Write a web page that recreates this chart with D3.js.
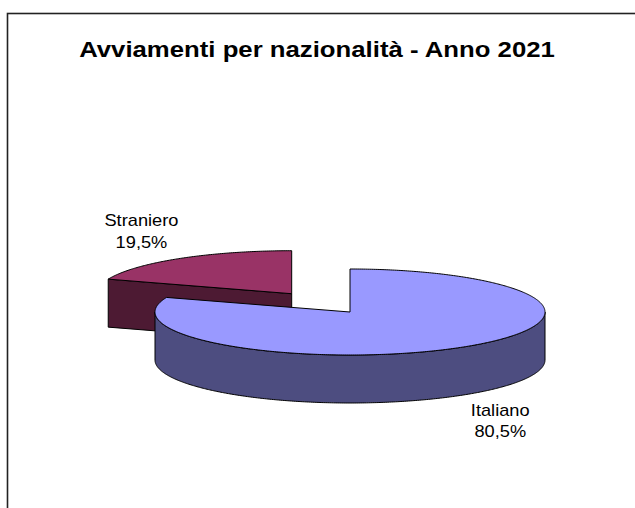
<!DOCTYPE html>
<html>
<head>
<meta charset="utf-8">
<script src="https://cdn.jsdelivr.net/npm/d3@7"></script>
<style>
  html, body { margin: 0; padding: 0; background: #fff; }
  svg { display: block; }
  text { font-family: "Liberation Sans", Arial, sans-serif; fill: #000; }
</style>
</head>
<body>
<svg id="chart" width="635" height="508"></svg>
<script>
// Data
const title = "Avviamenti per nazionalità - Anno 2021";
const categories = ["Italiano", "Straniero"];
const shares = [80.5, 19.5];
const shareLabels = ["80,5%", "19,5%"];
const explode = [0, 0.52];
const topColors = ["#9999FF", "#993366"];

// Layout of the 3-D pie
const W = 635, H = 508;
const cx = 350, cy = 312;     // pie centre (top face)
const rx = 195, ry = 43;      // projected ellipse radii
const depth = 48;             // thickness of the disc

const svg = d3.select("#chart");

// chart frame
svg.append("rect")
  .attr("x", 7.5).attr("y", 13.5)
  .attr("width", W + 10).attr("height", H + 10)
  .attr("fill", "none").attr("stroke", "#222").attr("stroke-width", 1.6);

// title
svg.append("text")
  .attr("transform", `translate(317,57) scale(1.17,1)`)
  .attr("text-anchor", "middle")
  .attr("font-size", 22).attr("font-weight", "bold")
  .text(title);

const pie = d3.pie().sort(null).value(d => d.value);
const arcs = pie(categories.map((c, i) => ({
  name: c, value: shares[i], label: shareLabels[i], explode: explode[i], color: topColors[i]
})));

// projected point on the ellipse (angle clockwise from 12 o'clock)
function proj(c, a, dz = 0) {
  return [c[0] + rx * Math.sin(a), c[1] - ry * Math.cos(a) + dz];
}
function arcPoints(c, a0, a1, dz = 0) {
  const n = Math.max(2, Math.ceil(Math.abs(a1 - a0) / 0.01));
  return d3.range(n + 1).map(i => proj(c, a0 + (a1 - a0) * i / n, dz));
}
const line = d3.line().curve(d3.curveLinear);

arcs.forEach(d => {
  const mid = (d.startAngle + d.endAngle) / 2;
  d.center = [cx + rx * d.data.explode * Math.sin(mid), cy - ry * d.data.explode * Math.cos(mid)];
  d.mid = mid;
});

// paint back-to-front
const order = arcs.slice().sort((a, b) => a.center[1] - b.center[1]);

const g = svg.append("g")
  .attr("stroke", "#000").attr("stroke-width", 1).attr("stroke-linejoin", "round");

order.forEach(d => {
  const c = d.center;
  const base = d3.color(d.data.color);
  const side = d3.rgb(base.r * 0.5, base.g * 0.5, base.b * 0.5).formatHex();
  const sg = g.append("g");

  // radial cut faces that face the viewer
  [[d.startAngle, d.startAngle - Math.PI / 2], [d.endAngle, d.endAngle + Math.PI / 2]]
    .forEach(([a, normal]) => {
      if (Math.cos(normal) < -1e-6) {
        const p = proj(c, a);
        const pts = [c, p, [p[0], p[1] + depth], [c[0], c[1] + depth]];
        sg.append("path").attr("d", line(pts) + "Z").attr("fill", side);
      }
    });

  // outer wall on the front half of the disc
  const f0 = Math.max(d.startAngle, Math.PI / 2);
  const f1 = Math.min(d.endAngle, 3 * Math.PI / 2);
  if (f1 > f0) {
    const pts = arcPoints(c, f0, f1).concat(arcPoints(c, f1, f0, depth));
    sg.append("path").attr("d", line(pts) + "Z").attr("fill", side);
  }

  // top face
  const topPts = [c].concat(arcPoints(c, d.startAngle, d.endAngle));
  sg.append("path").attr("d", line(topPts) + "Z").attr("fill", d.data.color);
});

// data labels outside the slices
arcs.forEach(d => {
  const s = Math.sin(d.mid), co = Math.cos(d.mid);
  const x = d.center[0] + rx * 1.34 * s;
  const y = d.center[1] - ry * 1.75 * co + (co < 0 ? depth : 0);
  const lg = svg.append("g").attr("font-size", 16).attr("text-anchor", "middle");
  lg.append("text").attr("transform", `translate(${x},${y - 6}) scale(1.14,1)`).text(d.data.name);
  lg.append("text").attr("transform", `translate(${x},${y + 15.5}) scale(1.14,1)`).text(d.data.label);
});
</script>
</body>
</html>
